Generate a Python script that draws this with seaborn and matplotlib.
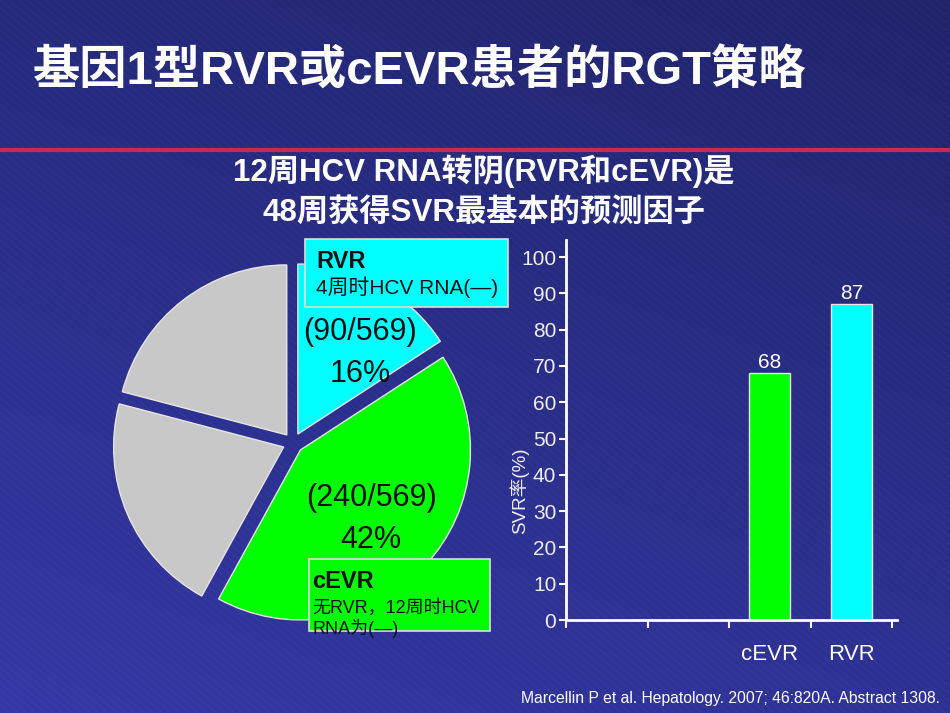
import numpy as np
import pandas as pd
import matplotlib
matplotlib.use('Agg')
import matplotlib.pyplot as plt
from matplotlib.patches import Rectangle
from matplotlib.colors import to_rgb
import seaborn as sns

FONTS = ['Liberation Sans', 'Noto Sans CJK SC', 'DejaVu Sans']

title = '基因1型RVR或cEVR患者的RGT策略'
subtitle = '12周HCV RNA转阴(RVR和cEVR)是\n48周获得SVR最基本的预测因子'
source = 'Marcellin P et al. Hepatology. 2007; 46:820A. Abstract 1308.'

# pie: genotype 1 patients by early response (n = 569)
pie_groups = ['RVR', 'cEVR', 'other_a', 'other_b']
pie_counts = [90, 240, 120, 119]
pie_colors = ['#00ffff', '#00ff00', '#c8c8c8', '#c8c8c8']
pie_labels = ['(90/569)\n16%', '(240/569)\n42%']

# bars: SVR rate by response group
bar_slots = ['', ' ', 'cEVR', 'RVR']
bar_groups = ['cEVR', 'RVR']
svr_rate = [68, 87]
bar_colors = ['#00ff00', '#00ffff']
y_ticks = list(range(0, 101, 10))
y_label = 'SVR率(%)'

box_rvr = ['RVR', '4周时HCV RNA(—)']
box_cevr = ['cEVR', '无RVR，12周时HCV\nRNA为(—)']

W, H = 950, 713


def fx(px):
    return px / W


def fy(py):
    return 1 - py / H


sns.set_theme(style='white')
plt.rcParams['font.family'] = FONTS

fig = plt.figure(figsize=(9.5, 7.13), dpi=100)

# background: navy gradient with faint diagonal streaks
bg = fig.add_axes([0, 0, 1, 1])
yy, xx = np.mgrid[0:1:200j, 0:1:260j]
t = np.clip(0.7 * yy + 0.3 * (1 - xx), 0, 1)[..., None]
top = np.array(to_rgb('#20246a'))
bottom = np.array(to_rgb('#3438a6'))
bg.imshow(top * (1 - t) + bottom * t, extent=[0, W, H, 0], aspect='auto')
for x0 in np.arange(-900, W, 9):
    bg.plot([x0, x0 + H * 1.2], [0, H], color='white', alpha=0.04, lw=0.6)
bg.plot([0, W], [150, 150], color='#c8295c', lw=3)
bg.set_xlim(0, W)
bg.set_ylim(H, 0)
bg.axis('off')

fig.text(fx(33), fy(72), title, color='white', fontsize=34,
         fontweight='bold', va='center', ha='left')
fig.text(fx(484), fy(191), subtitle, color='white', fontsize=22.5,
         fontweight='bold', va='center', ha='center', linespacing=1.45)
fig.text(fx(940), fy(698), source, color='white', fontsize=11.3,
         va='center', ha='right')

# pie
cx, cy, rad, half = 293, 443, 170, 220
ax_pie = fig.add_axes([fx(cx - half), fy(cy + half), 2 * half / W, 2 * half / H])
ax_pie.pie(pie_counts, colors=pie_colors, startangle=90, counterclock=False,
           explode=[0.06] * len(pie_counts),
           wedgeprops=dict(edgecolor='#e6e6e6', linewidth=1))
ax_pie.set_xlim(-half / rad, half / rad)
ax_pie.set_ylim(-half / rad, half / rad)
ax_pie.axis('off')
label_pos = [(0.394, 0.53), (0.46, -0.447)]
for (px, py), lab in zip(label_pos, pie_labels):
    ax_pie.text(px, py, lab, ha='center', va='center', fontsize=22,
                color='#111111', linespacing=1.5)

# callout boxes
boxes = [((305, 239, 508, 307), '#00ffff', box_rvr, 11, 15, 37),
         ((309, 559, 490, 631), '#00ff00', box_cevr, 3, 13, 40)]
for (x0, y0, x1, y1), color, lines, pad, size, gap in boxes:
    fig.patches.append(Rectangle((fx(x0), fy(y1)), fx(x1) - fx(x0), fy(y0) - fy(y1),
                                 transform=fig.transFigure, facecolor=color,
                                 edgecolor='#dddddd', linewidth=1.2))
    fig.text(fx(x0 + pad), fy(y0 + 22), lines[0], fontsize=17, fontweight='bold',
             color='#111111', va='center', ha='left')
    fig.text(fx(x0 + pad), fy(y0 + gap), lines[1], fontsize=size, color='#111111',
             va='top', ha='left', linespacing=1.15)

# bar chart
ax = fig.add_axes([fx(566), fy(620), (897 - 566) / W, (620 - 240) / H])
ax.set_facecolor('none')
df = pd.DataFrame({'group': bar_groups, 'svr': svr_rate})
sns.barplot(data=df, x='group', y='svr', hue='group', order=bar_slots,
            palette=dict(zip(bar_groups, bar_colors)), width=0.5, saturation=1,
            edgecolor='#e6e6e6', linewidth=1, legend=False, ax=ax)
for cont in ax.containers:
    ax.bar_label(cont, fmt='%g', color='white', fontsize=15, padding=1)

n = len(bar_slots)
ax.set_xlim(-0.5, n - 0.5 + 0.06)
ax.set_ylim(0, 104.7)
ax.set_xticks(np.arange(n + 1) - 0.5)
ax.set_xticklabels([])
ax.set_xticks(np.arange(n), minor=True)
ax.set_xticklabels(bar_slots, minor=True)
ax.set_yticks(y_ticks)
ax.set_yticklabels([str(v) for v in y_ticks])
ax.tick_params(axis='x', which='major', direction='out', length=6, width=1.5,
               color='white', bottom=True)
ax.tick_params(axis='x', which='minor', length=0, pad=17, labelsize=16,
               labelcolor='white')
ax.tick_params(axis='y', direction='out', length=5, width=1.5, color='white',
               left=True, labelsize=15, labelcolor='#eeeeee', pad=2)
ax.set_xlabel('')
ax.set_ylabel(y_label, color='#eeeeee', fontsize=13.5)
ax.yaxis.set_label_coords(-0.112, 0.34)
for side in ['top', 'right']:
    ax.spines[side].set_visible(False)
for side in ['left', 'bottom']:
    ax.spines[side].set_color('white')
    ax.spines[side].set_linewidth(2)

fig.savefig('out.png', dpi=100)
